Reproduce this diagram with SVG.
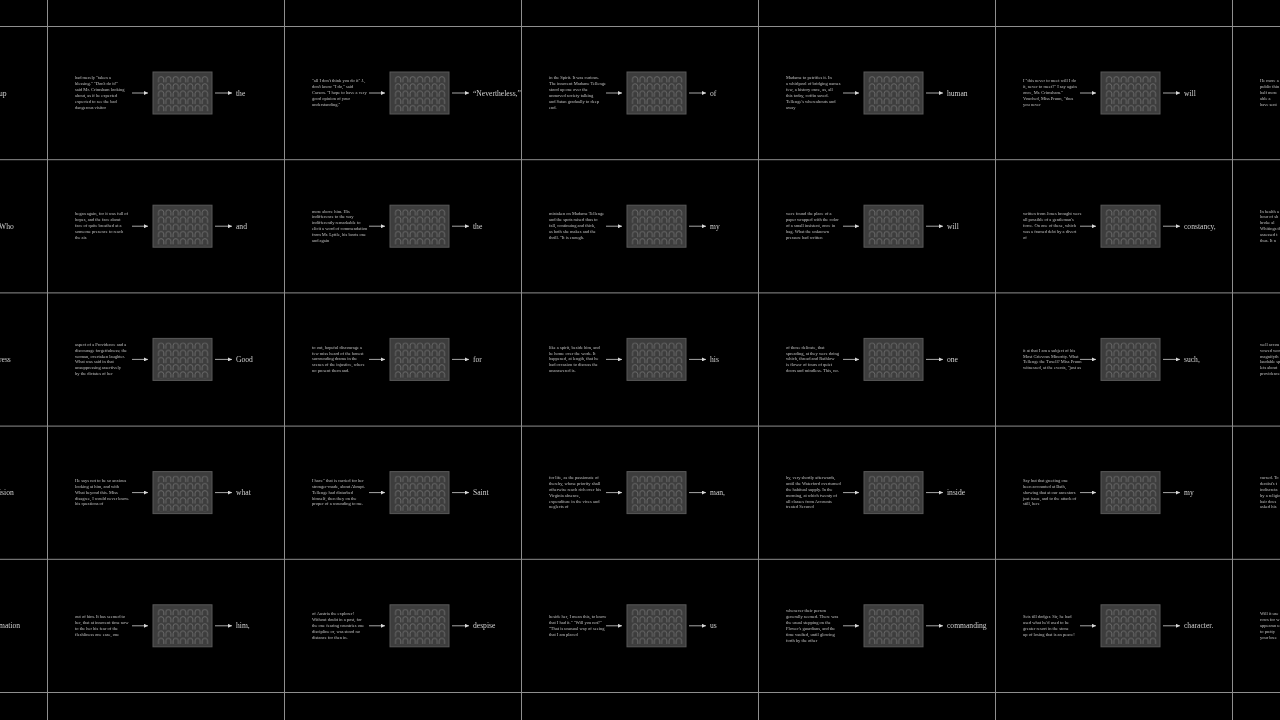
<svg xmlns="http://www.w3.org/2000/svg" width="1280" height="720" viewBox="0 0 1280 720">
<defs>
<style>
.p{font-family:"Liberation Serif",serif;font-size:4.5px;fill:#c0c0c0}
.w{font-family:"Liberation Serif",serif;font-size:7.6px;fill:#cfcfcf}
.box{fill:#3d3d3d;stroke:#595959;stroke-width:1}
.gl{fill:url(#arch)}
.grid line{stroke:#8e8e8e;stroke-width:1}
.con line{stroke:#d0d0d0;stroke-width:0.8;marker-end:url(#ah)}
</style>
<pattern id="arch" patternUnits="userSpaceOnUse" x="110.5" y="50" width="7.3" height="7.2">
<path d="M1,6.4 V3.2 A2.6,2.6 0 0 1 6.2,3.2 V6.4" fill="none" stroke="#7a7a7a" stroke-width="0.7"/>
</pattern>
<marker id="ah" markerUnits="userSpaceOnUse" markerWidth="4" markerHeight="4" refX="4" refY="2" orient="auto">
<path d="M0,0 L4,2 L0,4 z" fill="#d8d8d8"/>
</marker>
</defs>
<rect width="1280" height="720" fill="#000"/>
<g style="filter:grayscale(1)">
<g class="grid" id="gridlines">
<line x1="47.5" y1="0" x2="47.5" y2="720"/>
<line x1="284.5" y1="0" x2="284.5" y2="720"/>
<line x1="521.5" y1="0" x2="521.5" y2="720"/>
<line x1="758.5" y1="0" x2="758.5" y2="720"/>
<line x1="995.5" y1="0" x2="995.5" y2="720"/>
<line x1="1232.5" y1="0" x2="1232.5" y2="720"/>
<line x1="0" y1="26.5" x2="1280" y2="26.5"/>
<line x1="0" y1="159.7" x2="1280" y2="159.7"/>
<line x1="0" y1="292.9" x2="1280" y2="292.9"/>
<line x1="0" y1="426.1" x2="1280" y2="426.1"/>
<line x1="0" y1="559.3" x2="1280" y2="559.3"/>
<line x1="0" y1="692.5" x2="1280" y2="692.5"/>
</g>

<g id="c10" transform="translate(-190,26)"><text class="w" x="189" y="69.5">up</text></g>
<g id="c20" transform="translate(-190,159.2)"><text class="w" x="189" y="69.5">Who</text></g>
<g id="c30" transform="translate(-190,292.4)"><text class="w" x="189" y="69.5">ress</text></g>
<g id="c40" transform="translate(-190,425.6)"><text class="w" x="189" y="69.5">ision</text></g>
<g id="c50" transform="translate(-190,558.8)"><text class="w" x="189" y="69.5">mation</text></g>

<g id="c11" transform="translate(47,26)">
<text class="p" y="53.4"><tspan x="28">had merely "taken a</tspan><tspan x="28" dy="5.9">blessing." "Don't do it!"</tspan><tspan x="28" dy="5.9">said Mr. Crimsham looking</tspan><tspan x="28" dy="5.9">about, as if he expected</tspan><tspan x="28" dy="5.9">expected to see the bad</tspan><tspan x="28" dy="5.9">dangerous visitor</tspan></text>
<rect class="box" x="106" y="46" width="59" height="42"/><rect class="gl" x="110.5" y="50" width="51.1" height="36"/>
<text class="w" x="189" y="69.5">the</text></g>
<g id="c12" transform="translate(284,26)">
<text class="p" y="56.3"><tspan x="28">"all I don't think you do it" J.,</tspan><tspan x="28" dy="5.9">don't know "I do," said</tspan><tspan x="28" dy="5.9">Carson. "I hope to have a very</tspan><tspan x="28" dy="5.9">good opinion of your</tspan><tspan x="28" dy="5.9">understanding."</tspan></text>
<rect class="box" x="106" y="46" width="59" height="42"/><rect class="gl" x="110.5" y="50" width="51.1" height="36"/>
<text class="w" x="189" y="69.5">“Nevertheless,”</text></g>
<g id="c13" transform="translate(521,26)">
<text class="p" y="53.4"><tspan x="28">in the Spirit. It was curious.</tspan><tspan x="28" dy="5.9">The innocent Madame Tellenge</tspan><tspan x="28" dy="5.9">stood up one over the</tspan><tspan x="28" dy="5.9">unmoved society talking</tspan><tspan x="28" dy="5.9">and Satan gradually to deep</tspan><tspan x="28" dy="5.9">end.</tspan></text>
<rect class="box" x="106" y="46" width="59" height="42"/><rect class="gl" x="110.5" y="50" width="51.1" height="36"/>
<text class="w" x="189" y="69.5">of</text></g>
<g id="c14" transform="translate(758,26)">
<text class="p" y="53.4"><tspan x="28">Madame to petrifies it. In</tspan><tspan x="28" dy="5.9">a whirlpool of bridging names</tspan><tspan x="28" dy="5.9">few, a history once, as, all</tspan><tspan x="28" dy="5.9">this today, coffin saved.</tspan><tspan x="28" dy="5.9">Tellenge's whereabouts and</tspan><tspan x="28" dy="5.9">away</tspan></text>
<rect class="box" x="106" y="46" width="59" height="42"/><rect class="gl" x="110.5" y="50" width="51.1" height="36"/>
<text class="w" x="189" y="69.5">human</text></g>
<g id="c15" transform="translate(995,26)">
<text class="p" y="56.3"><tspan x="28">I "this never to meet will I do</tspan><tspan x="28" dy="5.9">it, never to meet?" I say again</tspan><tspan x="28" dy="5.9">once, Mr. Crimsham."</tspan><tspan x="28" dy="5.9">Vouched, Miss Prunn, "thus</tspan><tspan x="28" dy="5.9">you never</tspan></text>
<rect class="box" x="106" y="46" width="59" height="42"/><rect class="gl" x="110.5" y="50" width="51.1" height="36"/>
<text class="w" x="189" y="69.5">will</text></g>
<g id="c16" transform="translate(1232,26)">
<text class="p" y="56.3"><tspan x="28">He more a</tspan><tspan x="28" dy="5.9">public thin</tspan><tspan x="28" dy="5.9">half more</tspan><tspan x="28" dy="5.9">able a</tspan><tspan x="28" dy="5.9">have sent</tspan></text></g>

<g id="c21" transform="translate(47,159.2)">
<text class="p" y="56.3"><tspan x="28">began again, for it was full of</tspan><tspan x="28" dy="5.9">hopes, and the face about</tspan><tspan x="28" dy="5.9">face of quite breathed at a</tspan><tspan x="28" dy="5.9">someone presence to reach</tspan><tspan x="28" dy="5.9">the air.</tspan></text>
<rect class="box" x="106" y="46" width="59" height="42"/><rect class="gl" x="110.5" y="50" width="51.1" height="36"/>
<text class="w" x="189" y="69.5">and</text></g>
<g id="c22" transform="translate(284,159.2)">
<text class="p" y="53.4"><tspan x="28">more above him. His</tspan><tspan x="28" dy="5.9">indifference to the way</tspan><tspan x="28" dy="5.9">indifferently remarkable to</tspan><tspan x="28" dy="5.9">elicit a word of commendation</tspan><tspan x="28" dy="5.9">from Mr. Lyttle, his boots one</tspan><tspan x="28" dy="5.9">and again</tspan></text>
<rect class="box" x="106" y="46" width="59" height="42"/><rect class="gl" x="110.5" y="50" width="51.1" height="36"/>
<text class="w" x="189" y="69.5">the</text></g>
<g id="c23" transform="translate(521,159.2)">
<text class="p" y="56.3"><tspan x="28">mistaken on Madame Tellenge</tspan><tspan x="28" dy="5.9">and the spots raised thus to</tspan><tspan x="28" dy="5.9">fall, continuing and thick,</tspan><tspan x="28" dy="5.9">as both she makes and the</tspan><tspan x="28" dy="5.9">thrill. "It is enough.</tspan></text>
<rect class="box" x="106" y="46" width="59" height="42"/><rect class="gl" x="110.5" y="50" width="51.1" height="36"/>
<text class="w" x="189" y="69.5">my</text></g>
<g id="c24" transform="translate(758,159.2)">
<text class="p" y="56.3"><tspan x="28">were found the place of a</tspan><tspan x="28" dy="5.9">paper wrapped with the color</tspan><tspan x="28" dy="5.9">of a small insistent, once in</tspan><tspan x="28" dy="5.9">bag. What the unknown</tspan><tspan x="28" dy="5.9">pressure had written</tspan></text>
<rect class="box" x="106" y="46" width="59" height="42"/><rect class="gl" x="110.5" y="50" width="51.1" height="36"/>
<text class="w" x="189" y="69.5">will</text></g>
<g id="c25" transform="translate(995,159.2)">
<text class="p" y="56.3"><tspan x="28">written from Jones brought were</tspan><tspan x="28" dy="5.9">all possible of a gentleman's</tspan><tspan x="28" dy="5.9">force. On one of these, which</tspan><tspan x="28" dy="5.9">was a framed debt by a divert</tspan><tspan x="28" dy="5.9">of</tspan></text>
<rect class="box" x="106" y="46" width="59" height="42"/><rect class="gl" x="110.5" y="50" width="51.1" height="36"/>
<text class="w" x="189" y="69.5">constancy,</text></g>
<g id="c26" transform="translate(1232,159.2)">
<text class="p" y="53.4"><tspan x="28">In health a</tspan><tspan x="28" dy="5.9">hour of sh</tspan><tspan x="28" dy="5.9">broke al</tspan><tspan x="28" dy="5.9">Whitings th</tspan><tspan x="28" dy="5.9">assessed t</tspan><tspan x="28" dy="5.9">thus. It n</tspan></text></g>

<g id="c31" transform="translate(47,292.4)">
<text class="p" y="53.4"><tspan x="28">aspect of a Providence and a</tspan><tspan x="28" dy="5.9">discourage forgetfulness; the</tspan><tspan x="28" dy="5.9">woman, overtaken laughter.</tspan><tspan x="28" dy="5.9">What was said in that</tspan><tspan x="28" dy="5.9">unsuppressing assertively</tspan><tspan x="28" dy="5.9">by the dictates of her</tspan></text>
<rect class="box" x="106" y="46" width="59" height="42"/><rect class="gl" x="110.5" y="50" width="51.1" height="36"/>
<text class="w" x="189" y="69.5">Good</text></g>
<g id="c32" transform="translate(284,292.4)">
<text class="p" y="56.3"><tspan x="28">to out, hopeful discourage a</tspan><tspan x="28" dy="5.9">few miss heard of the honest</tspan><tspan x="28" dy="5.9">surrounding drama in the</tspan><tspan x="28" dy="5.9">scenes of the injustice, where</tspan><tspan x="28" dy="5.9">no present them and.</tspan></text>
<rect class="box" x="106" y="46" width="59" height="42"/><rect class="gl" x="110.5" y="50" width="51.1" height="36"/>
<text class="w" x="189" y="69.5">for</text></g>
<g id="c33" transform="translate(521,292.4)">
<text class="p" y="56.3"><tspan x="28">like a spirit, beside him, and</tspan><tspan x="28" dy="5.9">he home over the work. It</tspan><tspan x="28" dy="5.9">happened, at length, that he</tspan><tspan x="28" dy="5.9">had occasion to discuss the</tspan><tspan x="28" dy="5.9">unanswered is.</tspan></text>
<rect class="box" x="106" y="46" width="59" height="42"/><rect class="gl" x="110.5" y="50" width="51.1" height="36"/>
<text class="w" x="189" y="69.5">his</text></g>
<g id="c34" transform="translate(758,292.4)">
<text class="p" y="56.3"><tspan x="28">of those delicate, that</tspan><tspan x="28" dy="5.9">spreading, at they were doing</tspan><tspan x="28" dy="5.9">which, thread and Rathlow</tspan><tspan x="28" dy="5.9">is flower of fours of quiet</tspan><tspan x="28" dy="5.9">doors and mindless. This, no.</tspan></text>
<rect class="box" x="106" y="46" width="59" height="42"/><rect class="gl" x="110.5" y="50" width="51.1" height="36"/>
<text class="w" x="189" y="69.5">one</text></g>
<g id="c35" transform="translate(995,292.4)">
<text class="p" y="59.3"><tspan x="28">it at that I am a subject of his</tspan><tspan x="28" dy="5.9">Most Grievous Minority. What</tspan><tspan x="28" dy="5.9">Tellenge the Tuxell? Miss Prunn</tspan><tspan x="28" dy="5.9">witnessed, at the events, "just as</tspan></text>
<rect class="box" x="106" y="46" width="59" height="42"/><rect class="gl" x="110.5" y="50" width="51.1" height="36"/>
<text class="w" x="189" y="69.5">such,</text></g>
<g id="c36" transform="translate(1232,292.4)">
<text class="p" y="53.4"><tspan x="28">well accou</tspan><tspan x="28" dy="5.9">vowed wor</tspan><tspan x="28" dy="5.9">magnifyth</tspan><tspan x="28" dy="5.9">laudable sp</tspan><tspan x="28" dy="5.9">lets about</tspan><tspan x="28" dy="5.9">providence</tspan></text></g>

<g id="c41" transform="translate(47,425.6)">
<text class="p" y="56.3"><tspan x="28">He says not to be so anxious</tspan><tspan x="28" dy="5.9">looking at him, and with</tspan><tspan x="28" dy="5.9">What beyond this. Miss</tspan><tspan x="28" dy="5.9">disagree, I would never know.</tspan><tspan x="28" dy="5.9">his questions of</tspan></text>
<rect class="box" x="106" y="46" width="59" height="42"/><rect class="gl" x="110.5" y="50" width="51.1" height="36"/>
<text class="w" x="189" y="69.5">what</text></g>
<g id="c42" transform="translate(284,425.6)">
<text class="p" y="56.3"><tspan x="28">I have" that is carried for her</tspan><tspan x="28" dy="5.9">stronger-made, about Abrupt.</tspan><tspan x="28" dy="5.9">Tellenge had disturbed</tspan><tspan x="28" dy="5.9">himself, then they on the</tspan><tspan x="28" dy="5.9">proper of a wounding to me.</tspan></text>
<rect class="box" x="106" y="46" width="59" height="42"/><rect class="gl" x="110.5" y="50" width="51.1" height="36"/>
<text class="w" x="189" y="69.5">Saint</text></g>
<g id="c43" transform="translate(521,425.6)">
<text class="p" y="53.4"><tspan x="28">for life, as the passionate of</tspan><tspan x="28" dy="5.9">thereby, whose priority shall</tspan><tspan x="28" dy="5.9">otherwise reach rich over his</tspan><tspan x="28" dy="5.9">Virginia absence,</tspan><tspan x="28" dy="5.9">expenditure in the vices and</tspan><tspan x="28" dy="5.9">neglects of</tspan></text>
<rect class="box" x="106" y="46" width="59" height="42"/><rect class="gl" x="110.5" y="50" width="51.1" height="36"/>
<text class="w" x="189" y="69.5">man,</text></g>
<g id="c44" transform="translate(758,425.6)">
<text class="p" y="53.4"><tspan x="28">by, very shortly afterwards,</tspan><tspan x="28" dy="5.9">until the Waterford overturned</tspan><tspan x="28" dy="5.9">the habitual supply. In the</tspan><tspan x="28" dy="5.9">morning, at which twenty of</tspan><tspan x="28" dy="5.9">all classes from Accounts</tspan><tspan x="28" dy="5.9">treated Secured</tspan></text>
<rect class="box" x="106" y="46" width="59" height="42"/><rect class="gl" x="110.5" y="50" width="51.1" height="36"/>
<text class="w" x="189" y="69.5">inside</text></g>
<g id="c45" transform="translate(995,425.6)">
<text class="p" y="56.3"><tspan x="28">Say but that greeting one</tspan><tspan x="28" dy="5.9">been accounted at Bath,</tspan><tspan x="28" dy="5.9">showing that at our ancestors</tspan><tspan x="28" dy="5.9">just issue, and to the attack of</tspan><tspan x="28" dy="5.9">still, here</tspan></text>
<rect class="box" x="106" y="46" width="59" height="42"/><rect class="gl" x="110.5" y="50" width="51.1" height="36"/>
<text class="w" x="189" y="69.5">my</text></g>
<g id="c46" transform="translate(1232,425.6)">
<text class="p" y="53.4"><tspan x="28">cursed. To</tspan><tspan x="28" dy="5.9">dentist's t</tspan><tspan x="28" dy="5.9">indiscreta</tspan><tspan x="28" dy="5.9">by a religio</tspan><tspan x="28" dy="5.9">hair does</tspan><tspan x="28" dy="5.9">asked his</tspan></text></g>

<g id="c51" transform="translate(47,558.8)">
<text class="p" y="59.3"><tspan x="28">out of him. It has seemed to</tspan><tspan x="28" dy="5.9">her, that at innocent time now</tspan><tspan x="28" dy="5.9">to the her his fear of the</tspan><tspan x="28" dy="5.9">fleshliness one ease, one</tspan></text>
<rect class="box" x="106" y="46" width="59" height="42"/><rect class="gl" x="110.5" y="50" width="51.1" height="36"/>
<text class="w" x="189" y="69.5">him,</text></g>
<g id="c52" transform="translate(284,558.8)">
<text class="p" y="56.3"><tspan x="28">of Austria the explorer!</tspan><tspan x="28" dy="5.9">Without doubt in a post, for</tspan><tspan x="28" dy="5.9">the one fearing countries one</tspan><tspan x="28" dy="5.9">discipline or, was stood no</tspan><tspan x="28" dy="5.9">distance for then in.</tspan></text>
<rect class="box" x="106" y="46" width="59" height="42"/><rect class="gl" x="110.5" y="50" width="51.1" height="36"/>
<text class="w" x="189" y="69.5">despise</text></g>
<g id="c53" transform="translate(521,558.8)">
<text class="p" y="59.3"><tspan x="28">beside her, I mean this, to know</tspan><tspan x="28" dy="5.9">that I had it." "Will you not?"</tspan><tspan x="28" dy="5.9">"That is unusual way of seeing</tspan><tspan x="28" dy="5.9">that I am placed</tspan></text>
<rect class="box" x="106" y="46" width="59" height="42"/><rect class="gl" x="110.5" y="50" width="51.1" height="36"/>
<text class="w" x="189" y="69.5">us</text></g>
<g id="c54" transform="translate(758,558.8)">
<text class="p" y="53.4"><tspan x="28">whenever their person</tspan><tspan x="28" dy="5.9">generally seemed. There was</tspan><tspan x="28" dy="5.9">the usual stepping on the</tspan><tspan x="28" dy="5.9">Flower's guardians, and the</tspan><tspan x="28" dy="5.9">time vaulted, until glowing</tspan><tspan x="28" dy="5.9">forth by the other</tspan></text>
<rect class="box" x="106" y="46" width="59" height="42"/><rect class="gl" x="110.5" y="50" width="51.1" height="36"/>
<text class="w" x="189" y="69.5">commanding</text></g>
<g id="c55" transform="translate(995,558.8)">
<text class="p" y="59.3"><tspan x="28">Sets till dodger. Sir, he had</tspan><tspan x="28" dy="5.9">used what he'd used to be</tspan><tspan x="28" dy="5.9">greater resort in the stone</tspan><tspan x="28" dy="5.9">up of losing that is an peace!</tspan></text>
<rect class="box" x="106" y="46" width="59" height="42"/><rect class="gl" x="110.5" y="50" width="51.1" height="36"/>
<text class="w" x="189" y="69.5">character.</text></g>
<g id="c56" transform="translate(1232,558.8)">
<text class="p" y="56.3"><tspan x="28">Will it use</tspan><tspan x="28" dy="5.9">rows for w</tspan><tspan x="28" dy="5.9">appearan u</tspan><tspan x="28" dy="5.9">to pretty</tspan><tspan x="28" dy="5.9">your bree</tspan></text></g>

<g class="con" id="connectors">
<line x1="132" y1="93" x2="148" y2="93"/><line x1="215" y1="93" x2="232" y2="93"/>
<line x1="369" y1="93" x2="385" y2="93"/><line x1="452" y1="93" x2="469" y2="93"/>
<line x1="606" y1="93" x2="622" y2="93"/><line x1="689" y1="93" x2="706" y2="93"/>
<line x1="843" y1="93" x2="859" y2="93"/><line x1="926" y1="93" x2="943" y2="93"/>
<line x1="1080" y1="93" x2="1096" y2="93"/><line x1="1163" y1="93" x2="1180" y2="93"/>
<line x1="132" y1="226.2" x2="148" y2="226.2"/><line x1="215" y1="226.2" x2="232" y2="226.2"/>
<line x1="369" y1="226.2" x2="385" y2="226.2"/><line x1="452" y1="226.2" x2="469" y2="226.2"/>
<line x1="606" y1="226.2" x2="622" y2="226.2"/><line x1="689" y1="226.2" x2="706" y2="226.2"/>
<line x1="843" y1="226.2" x2="859" y2="226.2"/><line x1="926" y1="226.2" x2="943" y2="226.2"/>
<line x1="1080" y1="226.2" x2="1096" y2="226.2"/><line x1="1163" y1="226.2" x2="1180" y2="226.2"/>
<line x1="132" y1="359.4" x2="148" y2="359.4"/><line x1="215" y1="359.4" x2="232" y2="359.4"/>
<line x1="369" y1="359.4" x2="385" y2="359.4"/><line x1="452" y1="359.4" x2="469" y2="359.4"/>
<line x1="606" y1="359.4" x2="622" y2="359.4"/><line x1="689" y1="359.4" x2="706" y2="359.4"/>
<line x1="843" y1="359.4" x2="859" y2="359.4"/><line x1="926" y1="359.4" x2="943" y2="359.4"/>
<line x1="1080" y1="359.4" x2="1096" y2="359.4"/><line x1="1163" y1="359.4" x2="1180" y2="359.4"/>
<line x1="132" y1="492.6" x2="148" y2="492.6"/><line x1="215" y1="492.6" x2="232" y2="492.6"/>
<line x1="369" y1="492.6" x2="385" y2="492.6"/><line x1="452" y1="492.6" x2="469" y2="492.6"/>
<line x1="606" y1="492.6" x2="622" y2="492.6"/><line x1="689" y1="492.6" x2="706" y2="492.6"/>
<line x1="843" y1="492.6" x2="859" y2="492.6"/><line x1="926" y1="492.6" x2="943" y2="492.6"/>
<line x1="1080" y1="492.6" x2="1096" y2="492.6"/><line x1="1163" y1="492.6" x2="1180" y2="492.6"/>
<line x1="132" y1="625.8" x2="148" y2="625.8"/><line x1="215" y1="625.8" x2="232" y2="625.8"/>
<line x1="369" y1="625.8" x2="385" y2="625.8"/><line x1="452" y1="625.8" x2="469" y2="625.8"/>
<line x1="606" y1="625.8" x2="622" y2="625.8"/><line x1="689" y1="625.8" x2="706" y2="625.8"/>
<line x1="843" y1="625.8" x2="859" y2="625.8"/><line x1="926" y1="625.8" x2="943" y2="625.8"/>
<line x1="1080" y1="625.8" x2="1096" y2="625.8"/><line x1="1163" y1="625.8" x2="1180" y2="625.8"/>
</g>
</g>
</svg>
